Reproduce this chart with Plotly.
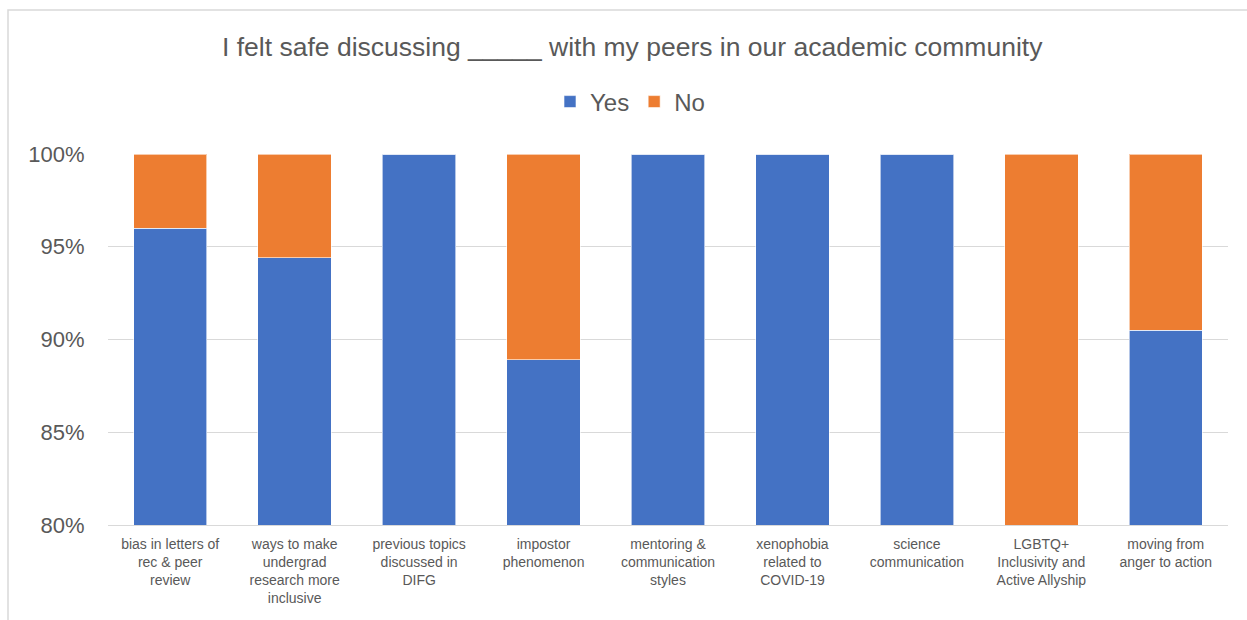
import plotly.graph_objects as go

categories = [
    "bias in letters of<br>rec & peer<br>review",
    "ways to make<br>undergrad<br>research more<br>inclusive",
    "previous topics<br>discussed in<br>DIFG",
    "impostor<br>phenomenon",
    "mentoring &<br>communication<br>styles",
    "xenophobia<br>related to<br>COVID-19",
    "science<br>communication",
    "LGBTQ+<br>Inclusivity and<br>Active Allyship",
    "moving from<br>anger to action",
]
yes_pct = [96.0, 94.4, 100.0, 88.9, 100.0, 100.0, 100.0, 80.0, 90.5]
no_pct = [4.0, 5.6, 0.0, 11.1, 0.0, 0.0, 0.0, 20.0, 9.5]
y_ticks = [80, 85, 90, 95, 100]
y_tick_labels = ["80%", "85%", "90%", "95%", "100%"]

FONT = "Liberation Sans, Arial, sans-serif"
TXT = "#595959"

fig = go.Figure()
fig.add_trace(go.Bar(name="Yes", x=categories, y=yes_pct,
                     marker=dict(color="#4472C4", line=dict(color="rgba(255,255,255,0.6)", width=1))))
fig.add_trace(go.Bar(name="No", x=categories, y=no_pct,
                     marker=dict(color="#ED7D31", line=dict(color="rgba(255,255,255,0.6)", width=1))))

L, R, T, B = 108, 19, 154, 95
W, H = 1247, 620
pw, ph = W - L - R, H - T - B

fig.update_layout(
    barmode="stack",
    bargap=0.41,
    width=W, height=H,
    margin=dict(l=L, r=R, t=T, b=B),
    paper_bgcolor="white", plot_bgcolor="white",
    font=dict(family=FONT, color=TXT),
    title=dict(text="I felt safe discussing _____ with my peers in our academic community",
               x=0.507, xanchor="center", y=1 - 47 / H, yanchor="middle",
               font=dict(size=26.5, color=TXT, family=FONT)),
    legend=dict(orientation="h", x=(630 - L) / pw, xanchor="center",
                y=(525 - 102) / ph, yanchor="middle",
                font=dict(size=24, color=TXT, family=FONT),
                itemwidth=30, traceorder="normal", itemclick=False),
    showlegend=True,
    shapes=[dict(type="rect", xref="paper", yref="paper",
                 x0=(8 - L) / pw, x1=(1262 - L) / pw,
                 y0=(525 - 640) / ph, y1=(525 - 10) / ph,
                 line=dict(color="#d9d9d9", width=1.5), fillcolor="rgba(0,0,0,0)", layer="below")],
)

fig.update_yaxes(range=[80, 100], tickvals=y_ticks, ticktext=y_tick_labels,
                 showgrid=True, gridcolor="#d9d9d9", gridwidth=1,
                 zeroline=False, showline=False,
                 ticks="outside", ticklen=18, tickcolor="rgba(0,0,0,0)",
                 tickfont=dict(size=22, color=TXT, family=FONT))
fig.update_xaxes(showline=True, linecolor="#d9d9d9", linewidth=1,
                 ticks="outside", ticklen=6, tickcolor="rgba(0,0,0,0)",
                 tickfont=dict(size=14, color=TXT, family=FONT), tickangle=0)

fig.write_html("out.html")
